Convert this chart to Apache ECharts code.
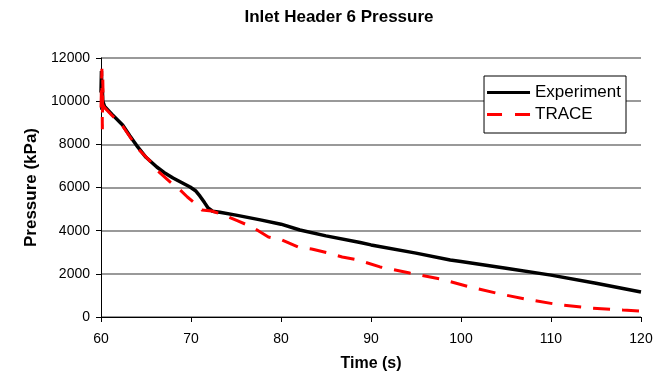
<!DOCTYPE html>
<html lang="en">
<head>
    <meta charset="UTF-8">
    <title>Inlet Header 6 Pressure</title>
    <script src="https://cdn.jsdelivr.net/npm/echarts@6/dist/echarts.min.js"></script>
</head>
<body style="margin:0;background:#fff;">
    <div id="main" style="width: 659px; height: 381px;"></div>
    <script>
        // time (s), pressure (kPa)
        const expTime = [60, 60.05, 60.1, 60.15, 60.2, 60.4, 61.2, 62.4, 63.2, 64.1, 65.0, 66.2, 67.0, 68.0, 69.0, 69.9, 70.5, 71.0, 71.5, 71.9, 72.4, 73.2, 75.0, 77.7, 80.0, 82.1, 85.0, 88.8, 90.0, 95.0, 98.8, 100.0, 105.0, 110.0, 115.0, 120.0];
        const expPressure = [10400, 11400, 9600, 10600, 10000, 9750, 9400, 8900, 8400, 7870, 7400, 6950, 6700, 6440, 6220, 6020, 5850, 5600, 5300, 5050, 4900, 4850, 4720, 4500, 4300, 4030, 3760, 3450, 3340, 2960, 2640, 2570, 2260, 1940, 1560, 1160];

        const traceTime = [60, 60.1, 60.15, 60.2, 60.25, 60.4, 61.2, 62.4, 64.1, 65.5, 66.2, 67.7, 68.8, 69.6, 70.5, 71.2, 72.3, 73.6, 75.2, 76.8, 78.6, 80.1, 81.9, 83.4, 85.2, 86.8, 88.6, 91.0, 94.3, 97.7, 101.0, 104.3, 107.7, 111.0, 114.3, 118.0, 120.0];
        const tracePressure = [9700, 11500, 8700, 11000, 9800, 9700, 9350, 8850, 7800, 7200, 6810, 6250, 5880, 5560, 5250, 4960, 4910, 4730, 4450, 4170, 3710, 3570, 3240, 3150, 2970, 2780, 2640, 2320, 2040, 1760, 1390, 1070, 790, 560, 420, 320, 270];

        const pairs = (xs, ys) => xs.map((x, i) => [x, ys[i]]);

        const font = 'Liberation Sans, Arial, sans-serif';

        const option = {
            animation: false,
            backgroundColor: '#fff',
            title: {
                text: 'Inlet Header 6 Pressure',
                left: 334,
                top: 4,
                textAlign: 'center',
                textStyle: { fontFamily: font, fontSize: 17, fontWeight: 'bold', color: '#000' }
            },
            grid: { left: 101, right: 18, top: 58, bottom: 64 },
            legend: {
                right: 33,
                top: 76,
                orient: 'vertical',
                itemWidth: 43,
                itemHeight: 12,
                itemGap: 5,
                padding: [8, 5, 10, 3],
                backgroundColor: '#fff',
                borderColor: '#000',
                borderWidth: 1,
                textStyle: { fontFamily: font, fontSize: 17, color: '#000' },
                data: [
                    { name: 'Experiment', icon: 'path://M0,0 L43,0 L43,3 L0,3 Z' },
                    { name: 'TRACE', icon: 'path://M0,0 L15,0 L15,3 L0,3 Z M28,0 L43,0 L43,3 L28,3 Z' }
                ]
            },
            xAxis: {
                type: 'value',
                min: 60,
                max: 120,
                interval: 10,
                name: 'Time (s)',
                nameLocation: 'middle',
                nameGap: 39,
                nameTextStyle: { fontFamily: font, fontSize: 16, fontWeight: 'bold', color: '#000' },
                axisLine: { lineStyle: { color: '#000', width: 1 } },
                axisTick: { show: true, length: 5, lineStyle: { color: '#000' } },
                axisLabel: { fontFamily: font, fontSize: 14, color: '#000', margin: 15 },
                splitLine: { show: false }
            },
            yAxis: {
                type: 'value',
                min: 0,
                max: 12000,
                interval: 2000,
                name: 'Pressure (kPa)',
                nameLocation: 'middle',
                nameGap: 60,
                nameTextStyle: { fontFamily: font, fontSize: 17, fontWeight: 'bold', color: '#000' },
                axisLine: { show: true, lineStyle: { color: '#000', width: 1 } },
                axisTick: { show: true, length: 5, lineStyle: { color: '#000' } },
                axisLabel: { fontFamily: font, fontSize: 14, color: '#000', margin: 11, formatter: v => String(v) },
                splitLine: { show: true, lineStyle: { color: '#777', width: 1.5 } }
            },
            series: [
                {
                    name: 'TRACE',
                    type: 'line',
                    showSymbol: false,
                    data: pairs(traceTime, tracePressure),
                    itemStyle: { color: '#ff0000' },
                    lineStyle: { color: '#ff0000', width: 3, type: [17, 12] },
                    z: 3
                },
                {
                    name: 'Experiment',
                    type: 'line',
                    showSymbol: false,
                    data: pairs(expTime, expPressure),
                    itemStyle: { color: '#000' },
                    lineStyle: { color: '#000', width: 3.5 },
                    z: 2
                }
            ]
        };

        const myChart = echarts.init(document.getElementById('main'));
        myChart.setOption(option);
    </script>
</body>
</html>
